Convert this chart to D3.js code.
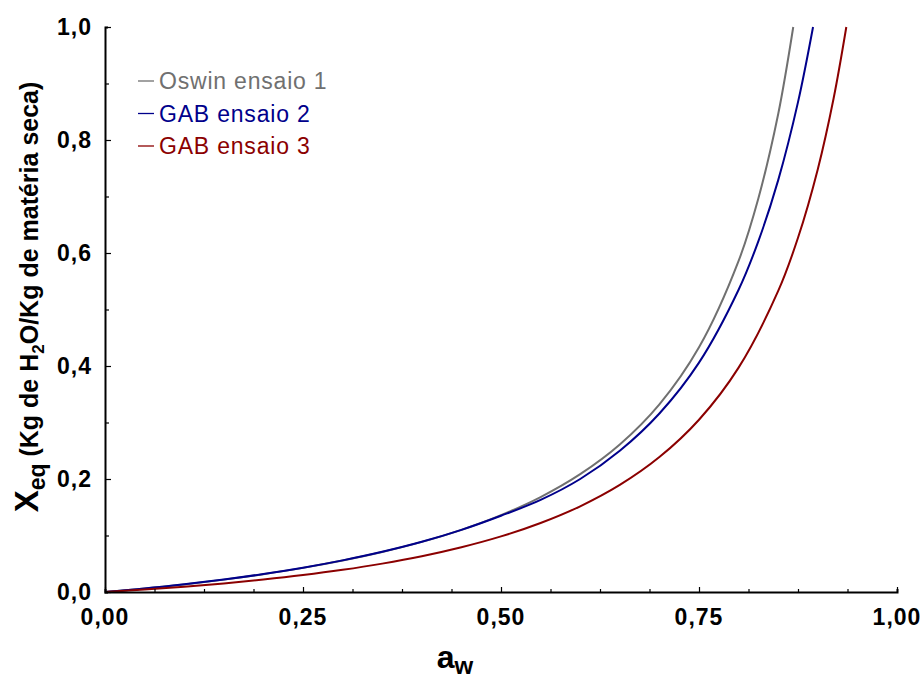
<!DOCTYPE html>
<html><head><meta charset="utf-8">
<script src="https://cdn.jsdelivr.net/npm/d3@7"></script>
<style>
body{margin:0;background:#fff;}
text{font-family:"Liberation Sans",Arial,sans-serif;}
</style></head>
<body><svg id="c" width="924" height="680"></svg>
<script>
// ---- data ----
const awOswin = [0,0.05,0.10,0.15,0.20,0.25,0.30,0.35,0.40,0.45,0.50,0.55,0.60,0.65,0.70,0.75,0.80,0.825,0.85,0.869];
const xOswin  = [0,0.0061,0.0134,0.0219,0.0316,0.0427,0.0557,0.0709,0.0887,0.110,0.136,0.168,0.2085,0.261,0.332,0.433,0.586,0.697,0.846,1.0];
const awGab2 = [0,0.05,0.10,0.15,0.20,0.25,0.30,0.35,0.40,0.45,0.50,0.55,0.60,0.65,0.70,0.75,0.80,0.825,0.85,0.875,0.894];
const xGab2  = [0,0.0061,0.0136,0.0221,0.0318,0.0430,0.0560,0.0711,0.0888,0.110,0.135,0.163,0.200,0.250,0.316,0.406,0.535,0.621,0.729,0.867,1.0];
const awGab3 = [0,0.05,0.10,0.15,0.20,0.25,0.30,0.35,0.40,0.45,0.50,0.55,0.60,0.65,0.70,0.75,0.80,0.85,0.875,0.90,0.92,0.936];
const xGab3  = [0,0.0044,0.0094,0.0152,0.0220,0.0299,0.0392,0.0502,0.0633,0.0792,0.0984,0.1221,0.1517,0.1895,0.2388,0.3049,0.3971,0.5328,0.6269,0.7484,0.8739,1.0];
const seriesNames = ["Oswin ensaio 1","GAB ensaio 2","GAB ensaio 3"];
const seriesColors = ["#707070","#00008b","#8b0000"];
const xTickLabels = ["0,00","0,25","0,50","0,75","1,00"];
const yTickLabels = ["0,0","0,2","0,4","0,6","0,8","1,0"];
const xMajor = [0,0.25,0.5,0.75,1.0];
const yMajor = [0,0.2,0.4,0.6,0.8,1.0];

const svg = d3.select("#c");
const L=105, R=897, T=27, B=592;
const x = d3.scaleLinear().domain([0,1]).range([L,R]);
const y = d3.scaleLinear().domain([0,1]).range([B,T]);

const series = [
  {name:seriesNames[0], color:seriesColors[0], pts:awOswin.map((a,i)=>[a,xOswin[i]])},
  {name:seriesNames[1], color:seriesColors[1], pts:awGab2.map((a,i)=>[a,xGab2[i]])},
  {name:seriesNames[2], color:seriesColors[2], pts:awGab3.map((a,i)=>[a,xGab3[i]])}
];
const line = d3.line().x(d=>x(d[0])).y(d=>y(d[1])).curve(d3.curveCatmullRom.alpha(0.5));
svg.append("g").selectAll("path").data(series).join("path")
  .attr("d",d=>line(d.pts)).attr("fill","none").attr("stroke",d=>d.color).attr("stroke-width",2);

// axes
const xAxis = d3.axisBottom(x).tickValues(d3.range(0,17).map(i=>i/16)).tickSize(-3).tickFormat("");
const gx = svg.append("g").attr("transform",`translate(0,${B})`).call(xAxis);
gx.selectAll(".tick line").attr("stroke","#000").attr("stroke-width",1.2)
  .attr("y2",d=>xMajor.some(m=>Math.abs(m-d)<1e-9)? -5 : -3);
gx.select(".domain").attr("stroke","#000").attr("stroke-width",2);
gx.selectAll(".tick text").remove();
const yAxis = d3.axisLeft(y).tickValues(d3.range(0,11).map(i=>i/10)).tickSize(-3).tickFormat("");
const gy = svg.append("g").attr("transform",`translate(${L},0)`).call(yAxis);
gy.selectAll(".tick line").attr("stroke","#000").attr("stroke-width",1.2)
  .attr("x2",d=>yMajor.some(m=>Math.abs(m-d)<1e-9)? 6 : 4);
gy.select(".domain").attr("stroke","#000").attr("stroke-width",2);
gy.selectAll(".tick text").remove();

svg.append("g").selectAll("text").data(xMajor).join("text")
  .attr("x",d=>x(d)).attr("y",B+33).attr("text-anchor","middle").attr("letter-spacing",1)
  .attr("font-size",23).attr("font-weight","bold").text((d,i)=>xTickLabels[i]);
svg.append("g").selectAll("text").data(yMajor).join("text")
  .attr("x",L-13).attr("y",d=>y(d)).attr("dy","0.36em").attr("text-anchor","end").attr("letter-spacing",1)
  .attr("font-size",23).attr("font-weight","bold").text((d,i)=>yTickLabels[i]);

// x title
const xt = svg.append("text").attr("x",455).attr("y",668).attr("text-anchor","middle")
  .attr("font-weight","bold").attr("font-size",32);
xt.append("tspan").text("a");
xt.append("tspan").attr("font-size",24).attr("dy",6).text("w");

// y title
const yt = svg.append("text").attr("transform","translate(38,297) rotate(-90)")
  .attr("text-anchor","middle").attr("font-weight","bold").attr("font-size",25);
yt.append("tspan").attr("font-size",33).text("X");
yt.append("tspan").attr("font-size",23).attr("dy",7).text("eq");
yt.append("tspan").attr("dy",-7).text(" (Kg de H");
yt.append("tspan").attr("font-size",17).attr("dy",6).text("2");
yt.append("tspan").attr("dy",-6).text("O/Kg de matéria seca)");

// legend
const lg = svg.append("g").selectAll("g").data(series).join("g")
  .attr("transform",(d,i)=>`translate(138,${81+i*32.5})`);
lg.append("line").attr("x1",0).attr("x2",16).attr("stroke",d=>d.color).attr("stroke-width",1.3);
lg.append("text").attr("x",21).attr("y",0).attr("dy","0.36em").attr("font-size",23).attr("letter-spacing",0.8)
  .attr("fill",d=>d.color).text(d=>d.name);
</script></body></html>
